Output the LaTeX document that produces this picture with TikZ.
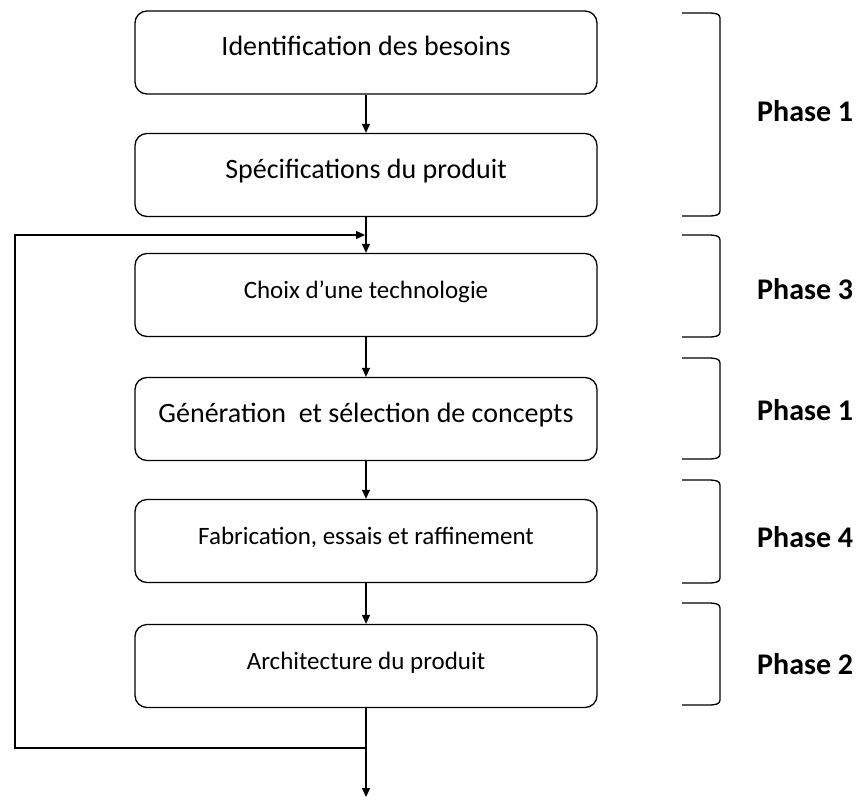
\documentclass[tikz,border=0pt]{standalone}
\usepackage{fontspec}
\setmainfont{Carlito}
\usetikzlibrary{arrows.meta}

% right-hand square bracket spanning rows #1 (top) to #2 (bottom)
\newcommand\phasebrk[2]{%
  \draw[bracket] (682,#1) -- (708,#1)
    .. controls (716,#1) and (720,#1+1) .. (720,#1+5)
    -- (720,#2-5)
    .. controls (720,#2-1) and (716,#2) .. (708,#2)
    -- (682,#2);}

\begin{document}
\begin{tikzpicture}[x=1pt,y=-1pt,
  stage/.style={draw, line width=1.3pt, rounded corners=12pt,
    minimum width=462pt, minimum height=83pt, inner sep=0pt,
    text height=0.75em, text depth=0.05em,
    font=\fontsize{28}{32}\selectfont},
  small/.style={font=\fontsize{25}{29}\selectfont},
  flow/.style={line width=1.3pt, -{Triangle[length=9pt,width=8pt]}},
  bracket/.style={line width=1.3pt},
  phase/.style={anchor=west, inner sep=0pt,
    font=\fontsize{30}{34}\selectfont\bfseries}]

\useasboundingbox[fill=white] (0,0) rectangle (861,800);

% process steps
\node[stage]       (n1) at (366,52.5) {Identification des besoins};
\node[stage]       (n2) at (366,175)  {Spécifications du produit};
\node[stage,small] (n3) at (366,295)  {Choix d’une technologie};
\node[stage]       (n4) at (366,419)  {Génération\ \ et sélection de concepts};
\node[stage,small] (n5) at (366,541)  {Fabrication, essais et raffinement};
\node[stage,small] (n6) at (366,666)  {Architecture du produit};

% junctions of the feedback loop
\coordinate (j1) at (366,235);
\coordinate (j2) at (366,748);
\coordinate (c1) at (15,748);
\coordinate (c2) at (15,235);
\coordinate (out) at (366,797);

% straight flow
\draw[flow] (n1) -- (n2);
\draw[flow] (n2) -- (n3);
\draw[flow] (n3) -- (n4);
\draw[flow] (n4) -- (n5);
\draw[flow] (n5) -- (n6);
\draw[flow] (n6) -- (out);

% feedback loop back to the technology choice
\draw[flow, shorten >=1pt] (j2) -- (c1) -- (c2) -- (j1);

% phase brackets and labels
\phasebrk{13}{216}
\phasebrk{235}{337}
\phasebrk{358}{459}
\phasebrk{480}{583}
\phasebrk{603}{705}

\node[phase] (p1) at (757,111) {Phase 1};
\node[phase] (p2) at (757,289) {Phase 3};
\node[phase] (p3) at (757,410) {Phase 1};
\node[phase] (p4) at (757,537) {Phase 4};
\node[phase] (p5) at (757,664) {Phase 2};

\end{tikzpicture}
\end{document}
